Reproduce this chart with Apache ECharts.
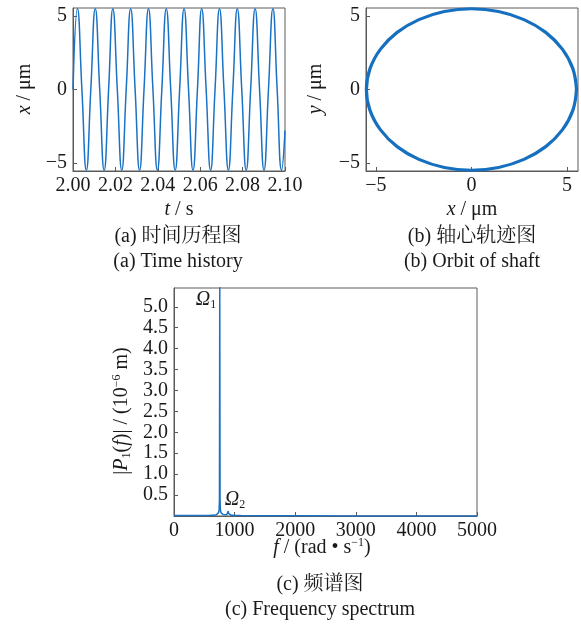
<!DOCTYPE html>
<html>
<head>
<meta charset="utf-8">
<script src="https://cdn.jsdelivr.net/npm/echarts@6/dist/echarts.min.js"></script>
<style>
html,body{margin:0;padding:0;background:#fff;}
#c{width:581px;height:627px;}
</style>
</head>
<body>
<div id="c"></div>
<script>
// (a) time history: read peaks, troughs and zero crossings
const tTime = [2.0000, 2.0021, 2.0042, 2.0063, 2.0084, 2.0105, 2.0126, 2.0147, 2.0168, 2.0188,
  2.0209, 2.0230, 2.0251, 2.0272, 2.0293, 2.0314, 2.0335, 2.0356, 2.0377, 2.0398,
  2.0419, 2.0440, 2.0461, 2.0482, 2.0503, 2.0524, 2.0545, 2.0566, 2.0587, 2.0607,
  2.0628, 2.0649, 2.0670, 2.0691, 2.0712, 2.0733, 2.0754, 2.0775, 2.0796, 2.0817,
  2.0838, 2.0859, 2.0880, 2.0901, 2.0922, 2.0943, 2.0963, 2.0984, 2.1000];
const xTime = [0, 5.5, 0, -5.5, 0, 5.5, 0, -5.5, 0, 5.5,
  0, -5.5, 0, 5.5, 0, -5.5, 0, 5.5, 0, -5.5,
  0, 5.5, 0, -5.5, 0, 5.5, 0, -5.5, 0, 5.5,
  0, -5.5, 0, 5.5, 0, -5.5, 0, 5.5, 0, -5.5,
  0, 5.5, 0, -5.5, 0, 5.5, 0, -5.5, -2.8];
const aXTicks = [2.00, 2.02, 2.04, 2.06, 2.08, 2.10];
const aYTicks = [-5, 0, 5];

// (b) orbit of shaft
const orbitX = [5.50, 5.31, 4.76, 3.89, 2.75, 1.42, 0, -1.42, -2.75, -3.89, -4.76, -5.31,
  -5.50, -5.31, -4.76, -3.89, -2.75, -1.42, 0, 1.42, 2.75, 3.89, 4.76, 5.31, 5.50];
const orbitY = [0, 1.42, 2.75, 3.89, 4.76, 5.31, 5.50, 5.31, 4.76, 3.89, 2.75, 1.42,
  0, -1.42, -2.75, -3.89, -4.76, -5.31, -5.50, -5.31, -4.76, -3.89, -2.75, -1.42, 0];
const bXTicks = [-5, 0, 5];
const bYTicks = [-5, 0, 5];

// (c) frequency spectrum
const fSpec = [0, 300, 500, 600, 650, 700, 720, 735, 745, 750, 755, 760, 765, 775, 790, 810,
  840, 870, 885, 890, 895, 900, 910, 940, 1000, 1100, 1300, 2000, 3000, 4000, 5000];
const pSpec = [0.01, 0.01, 0.012, 0.015, 0.02, 0.03, 0.05, 0.08, 0.15, 0.4, 5.6, 0.4, 0.15, 0.08, 0.05, 0.035,
  0.03, 0.03, 0.04, 0.06, 0.12, 0.06, 0.03, 0.02, 0.015, 0.01, 0.005, 0.003, 0.002, 0.002, 0.002];
const cXTicks = [0, 1000, 2000, 3000, 4000, 5000];
const cYTicks = [0.5, 1.0, 1.5, 2.0, 2.5, 3.0, 3.5, 4.0, 4.5, 5.0];

const SERIF = "'Liberation Serif', 'Times New Roman', serif";
const CJK = "'Liberation Serif', 'Noto Serif CJK SC', 'Noto Sans CJK SC', serif";
const FS = 20;
const TXT = '#1a1a1a';
const FRAME = '#5a5a5a';
const BLUE = '#1a72c4';

function zipPairs(a, b) { return a.map((v, i) => [v, b[i]]); }
function minusFmt(v) { return v < 0 ? '\u2212' + Math.abs(v) : String(v); }

function mkAxis(gi, pos, min, max, ticks, fmt, margin) {
  return {
    type: 'value', gridIndex: gi, position: pos, min: min, max: max,
    axisLine: { show: true, onZero: false, lineStyle: { color: FRAME, width: 1 } },
    axisTick: { show: true, inside: true, length: 4, customValues: ticks, lineStyle: { color: FRAME } },
    axisLabel: { show: true, customValues: ticks, formatter: fmt, margin: margin,
      fontFamily: SERIF, fontSize: FS, color: TXT },
    splitLine: { show: false }
  };
}

function rich() {
  return {
    n: { fontFamily: SERIF, fontSize: FS, color: TXT, lineHeight: 22 },
    i: { fontFamily: SERIF, fontSize: FS, fontStyle: 'italic', color: TXT, lineHeight: 22 },
    sup: { fontFamily: SERIF, fontSize: 12, color: TXT, verticalAlign: 'top', lineHeight: 12 },
    sub: { fontFamily: SERIF, fontSize: 12, color: TXT, verticalAlign: 'bottom', lineHeight: 12 }
  };
}
function txt(x, y, text, rot, family) {
  return {
    type: 'text', x: x, y: y, rotation: rot || 0,
    style: { text: text, rich: rich(), fontFamily: family || SERIF, fontSize: FS, fill: TXT,
      align: 'center', verticalAlign: 'middle' }
  };
}

const chart = echarts.init(document.getElementById('c'));
chart.setOption({
  animation: false,
  backgroundColor: '#fff',
  grid: [
    { left: 73, top: 8, width: 212, height: 163, show: true, borderColor: FRAME, borderWidth: 1, backgroundColor: '#fff' },
    { left: 366, top: 8, width: 212, height: 163, show: true, borderColor: FRAME, borderWidth: 1, backgroundColor: '#fff' },
    { left: 174, top: 288, width: 303, height: 228, show: true, borderColor: FRAME, borderWidth: 1, backgroundColor: '#fff' }
  ],
  xAxis: [
    mkAxis(0, 'bottom', 2.00, 2.10, aXTicks, v => v.toFixed(2), 5),
    mkAxis(1, 'bottom', -5.52, 5.58, bXTicks, minusFmt, 5),
    mkAxis(2, 'bottom', 0, 5000, cXTicks, v => String(v), 5)
  ],
  yAxis: [
    mkAxis(0, 'left', -5.55, 5.55, aYTicks, minusFmt, 6),
    mkAxis(1, 'left', -5.55, 5.55, bYTicks, minusFmt, 6),
    mkAxis(2, 'left', 0, 5.45, cYTicks, v => v.toFixed(1), 6)
  ],
  series: [
    { type: 'line', xAxisIndex: 0, yAxisIndex: 0, data: zipPairs(tTime, xTime), smooth: 0.5,
      showSymbol: false, lineStyle: { color: BLUE, width: 1.5 }, clip: true },
    { type: 'line', xAxisIndex: 1, yAxisIndex: 1, data: zipPairs(orbitX, orbitY), smooth: 0.4,
      showSymbol: false, lineStyle: { color: '#1670bf', width: 3.2 }, clip: true },
    { type: 'line', xAxisIndex: 2, yAxisIndex: 2, data: zipPairs(fSpec, pSpec), smooth: false,
      showSymbol: false, lineStyle: { color: BLUE, width: 1.5 }, clip: true }
  ],
  graphic: [
    txt(25, 89, '{i|x}{n| / μm}', Math.PI / 2),
    txt(179, 210, '{i|t}{n| / s}'),
    txt(178, 237, '(a) 时间历程图', 0, CJK),
    txt(178, 262, '(a) Time history'),
    txt(316, 89, '{i|y}{n| / μm}', Math.PI / 2),
    txt(472, 210, '{i|x}{n| / μm}'),
    txt(472, 237, '(b) 轴心轨迹图', 0, CJK),
    txt(472, 262, '(b) Orbit of shaft'),
    txt(122, 411, '{n||}{i|P}{sub|1}{n|(}{i|f}{n|)| / (10}{sup|−6}{n| m)}', Math.PI / 2),
    txt(322, 548, '{i|f}{n| / (rad • s}{sup|−1}{n|)}'),
    txt(320, 585, '(c) 频谱图', 0, CJK),
    txt(320, 610, '(c) Frequency spectrum'),
    txt(206, 300, '{i|Ω}{sub|1}'),
    txt(235, 500, '{i|Ω}{sub|2}')
  ]
});
</script>
</body>
</html>
